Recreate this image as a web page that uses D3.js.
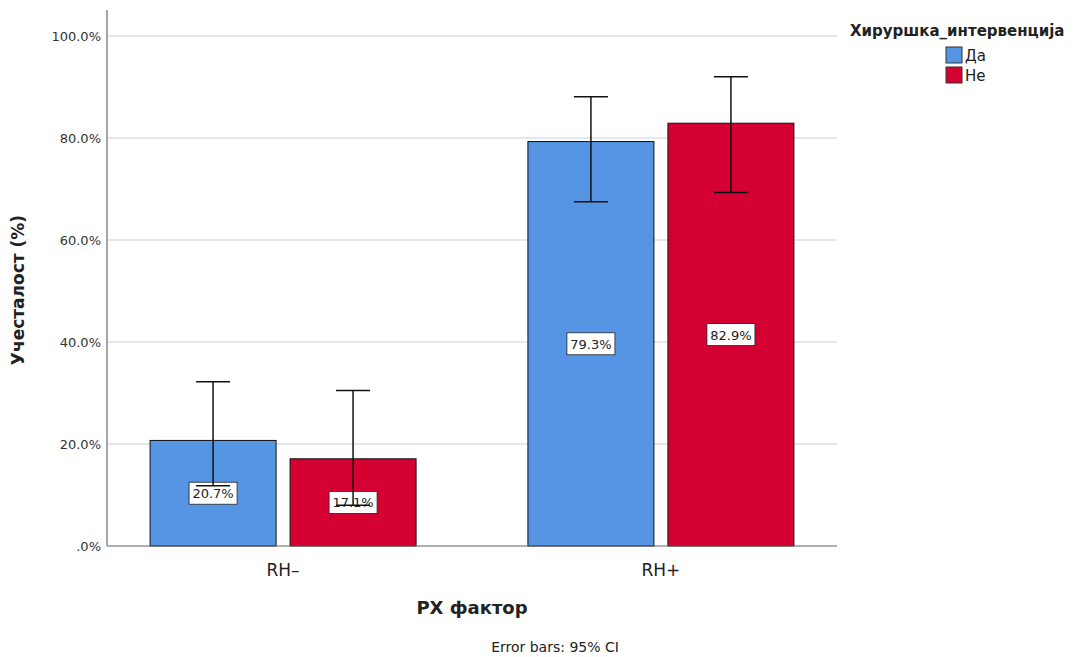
<!DOCTYPE html>
<html>
<head>
<meta charset="utf-8">
<script src="https://cdn.jsdelivr.net/npm/d3@7"></script>
<style>
  body { margin: 0; background: #fff; }
  text { font-family: "DejaVu Sans", sans-serif; }
</style>
</head>
<body>
<svg id="chart" width="1085" height="657"></svg>
<script>
// data
var categories = ["RH–", "RH+"];
var groups = ["Да", "Не"];
var values = [[20.7, 17.1], [79.3, 82.9]];
var ciLow = [[11.8, 8.0], [67.5, 69.3]];
var ciHigh = [[32.2, 30.5], [88.1, 92.0]];
var yTicks = [0, 20, 40, 60, 80, 100];
var colors = ["#5595e3", "#d50032"];

var svg = d3.select("#chart");

// plot frame (don't call it "top", window.top is read-only)
var plotLeft = 107, plotRight = 837, plotTop = 10;

var yScale = d3.scaleLinear().domain([0, 100]).range([546, 36]);
var xScale = d3.scalePoint().domain(categories).range([plotLeft, plotRight]).padding(0.466);
var subScale = d3.scaleBand().domain(groups).range([-133, 133]).paddingInner(0.1);

// gridlines
svg.append("g")
    .selectAll("line")
    .data(yTicks.filter(function(d) { return d > 0; }))
    .enter().append("line")
    .attr("x1", plotLeft).attr("x2", plotRight)
    .attr("y1", function(d) { return yScale(d); })
    .attr("y2", function(d) { return yScale(d); })
    .style("stroke", "#cfcfcf")
    .style("stroke-width", 1.2);

// y tick labels
svg.append("g")
    .selectAll("text")
    .data(yTicks)
    .enter().append("text")
    .attr("x", plotLeft - 6)
    .attr("y", function(d) { return yScale(d) + 5; })
    .attr("text-anchor", "end")
    .style("font-size", "13px")
    .style("fill", "#333")
    .text(function(d) { return d === 0 ? ".0%" : d.toFixed(1) + "%"; });

// bars
var flat = [];
categories.forEach(function(c, i) {
    groups.forEach(function(g, j) {
        flat.push({ cat: c, grp: g, j: j, v: values[i][j], lo: ciLow[i][j], hi: ciHigh[i][j] });
    });
});

var barG = svg.append("g");
barG.selectAll("rect")
    .data(flat)
    .enter().append("rect")
    .attr("x", function(d) { return xScale(d.cat) + subScale(d.grp); })
    .attr("y", function(d) { return yScale(d.v); })
    .attr("width", subScale.bandwidth())
    .attr("height", function(d) { return yScale(0) - yScale(d.v); })
    .style("fill", function(d) { return colors[d.j]; })
    .style("stroke", "#111")
    .style("stroke-width", 1);

// value labels
function cx(d) { return xScale(d.cat) + subScale(d.grp) + subScale.bandwidth() / 2; }

var labels = svg.append("g").selectAll("g")
    .data(flat)
    .enter().append("g")
    .attr("transform", function(d) { return "translate(" + cx(d) + "," + yScale(d.v / 2) + ")"; });

labels.append("rect")
    .attr("x", -24).attr("y", -11)
    .attr("width", 48).attr("height", 22)
    .style("fill", "#fff")
    .style("stroke", "#222")
    .style("stroke-width", 0.8);

labels.append("text")
    .attr("y", 5)
    .attr("text-anchor", "middle")
    .style("font-size", "13px")
    .style("fill", "#222")
    .text(function(d) { return d.v.toFixed(1) + "%"; });

// error bars
var err = svg.append("g").style("stroke", "#111").style("stroke-width", 1.5);
err.selectAll("line.v")
    .data(flat).enter().append("line")
    .attr("class", "v")
    .attr("x1", cx).attr("x2", cx)
    .attr("y1", function(d) { return yScale(d.lo); })
    .attr("y2", function(d) { return yScale(d.hi); });
err.selectAll("line.hi")
    .data(flat).enter().append("line")
    .attr("class", "hi")
    .attr("x1", function(d) { return cx(d) - 17; })
    .attr("x2", function(d) { return cx(d) + 17; })
    .attr("y1", function(d) { return yScale(d.hi); })
    .attr("y2", function(d) { return yScale(d.hi); });
err.selectAll("line.lo")
    .data(flat).enter().append("line")
    .attr("class", "lo")
    .attr("x1", function(d) { return cx(d) - 17; })
    .attr("x2", function(d) { return cx(d) + 17; })
    .attr("y1", function(d) { return yScale(d.lo); })
    .attr("y2", function(d) { return yScale(d.lo); });

// axes lines
svg.append("line")
    .attr("x1", plotLeft).attr("x2", plotLeft)
    .attr("y1", plotTop).attr("y2", yScale(0))
    .style("stroke", "#888").style("stroke-width", 1.5);
svg.append("line")
    .attr("x1", plotLeft).attr("x2", plotRight)
    .attr("y1", yScale(0)).attr("y2", yScale(0))
    .style("stroke", "#666").style("stroke-width", 1.2);

// category labels
svg.append("g").selectAll("text")
    .data(categories)
    .enter().append("text")
    .attr("x", function(d) { return xScale(d); })
    .attr("y", 576)
    .attr("text-anchor", "middle")
    .style("font-size", "17px")
    .style("fill", "#222")
    .text(function(d) { return d; });

// axis titles
svg.append("text")
    .attr("x", 472).attr("y", 614)
    .attr("text-anchor", "middle")
    .style("font-size", "18px")
    .style("font-weight", "bold")
    .style("fill", "#222")
    .text("РХ фактор");

svg.append("text")
    .attr("transform", "translate(24,290) rotate(-90)")
    .attr("text-anchor", "middle")
    .style("font-size", "17px")
    .style("font-weight", "bold")
    .style("fill", "#222")
    .text("Учесталост (%)");

svg.append("text")
    .attr("x", 555).attr("y", 652)
    .attr("text-anchor", "middle")
    .style("font-size", "14px")
    .style("fill", "#222")
    .text("Error bars: 95% CI");

// legend
svg.append("text")
    .attr("x", 850).attr("y", 36)
    .style("font-size", "15px")
    .style("font-weight", "bold")
    .style("fill", "#222")
    .text("Хируршка_интервенција");

var leg = svg.append("g").selectAll("g")
    .data(groups)
    .enter().append("g")
    .attr("transform", function(d, i) { return "translate(946," + (47 + i * 20) + ")"; });
leg.append("rect")
    .attr("width", 16).attr("height", 16)
    .style("fill", function(d, i) { return colors[i]; })
    .style("stroke", "#333").style("stroke-width", 1);
leg.append("text")
    .attr("x", 19).attr("y", 14)
    .style("font-size", "15px")
    .style("fill", "#222")
    .text(function(d) { return d; });
</script>
</body>
</html>
